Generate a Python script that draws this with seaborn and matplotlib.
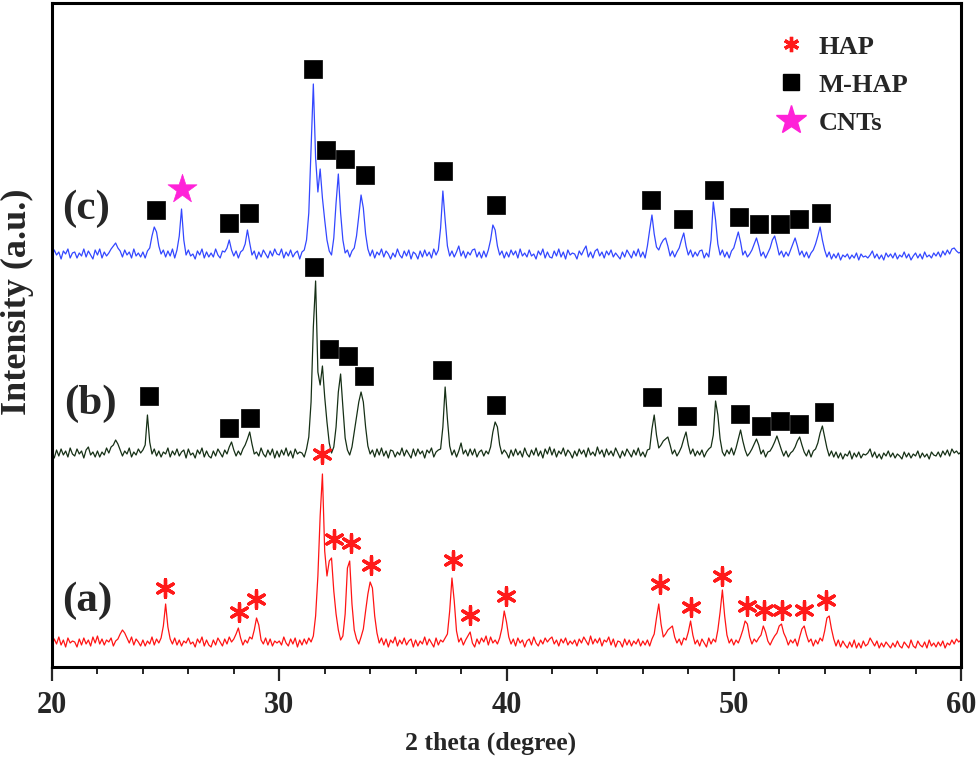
import numpy as np
import pandas as pd
import matplotlib
matplotlib.use('Agg')
import matplotlib.pyplot as plt
from matplotlib.lines import Line2D
import seaborn as sns

# 2 theta grid, 20.0 ... 60.0 in 0.1 degree steps
two_theta = np.round(np.linspace(20, 60, 401), 1)

# intensity (a.u.) above each pattern's own base, one row per degree (x.0 ... x.9)
pattern_a = [
    2, 9, 4, 11, 3, 8, 1, 10, 5, 7,
    6, 1, 9, 3, 10, 4, 8, 2, 11, 5,
    12, 4, 9, 3, 8, 6, 10, 2, 7, 9,
    14, 18, 15, 10, 5, 11, 3, 9, 6, 2,
    8, 2, 7, 4, 11, 3, 9, 5, 10, 22,
    44, 21, 9, 4, 10, 3, 8, 2, 7, 5,
    10, 4, 6, 1, 9, 5, 11, 2, 8, 3,
    1, 8, 3, 10, 6, 2, 9, 4, 11, 6,
    9, 14, 20, 10, 3, 8, 5, 11, 9, 18,
    30, 23, 8, 4, 10, 3, 9, 2, 7, 5,
    7, 3, 11, 5, 2, 9, 4, 10, 1, 8,
    3, 9, 4, 10, 6, 12, 32, 72, 132, 174,
    97, 72, 87, 90, 57, 34, 18, 8, 12, 34,
    80, 87, 44, 18, 9, 4, 11, 19, 37, 54,
    66, 60, 32, 15, 5, 10, 3, 9, 1, 8,
    5, 11, 2, 8, 4, 10, 3, 7, 9, 1,
    8, 2, 7, 4, 11, 3, 9, 5, 1, 10,
    3, 8, 6, 10, 14, 37, 70, 47, 17, 6,
    10, 3, 8, 12, 16, 5, 1, 9, 4, 10,
    6, 12, 3, 11, 5, 8, 4, 10, 20, 37,
    26, 11, 4, 9, 2, 10, 5, 8, 1, 7,
    9, 3, 11, 5, 2, 8, 4, 10, 6, 9,
    11, 4, 8, 2, 9, 5, 10, 3, 7, 4,
    8, 2, 9, 5, 11, 7, 3, 12, 4, 9,
    5, 10, 2, 8, 6, 11, 3, 9, 1, 7,
    6, 1, 9, 3, 8, 2, 7, 4, 9, 2,
    7, 3, 8, 2, 9, 14, 30, 44, 24, 11,
    14, 18, 20, 22, 11, 5, 9, 3, 10, 8,
    16, 27, 13, 4, 8, 2, 9, 5, 1, 10,
    4, 9, 6, 18, 36, 58, 32, 13, 5, 9,
    3, 8, 5, 11, 18, 27, 24, 11, 4, 9,
    6, 10, 13, 22, 16, 7, 3, 8, 12, 15,
    22, 24, 15, 10, 3, 8, 5, 9, 2, 11,
    19, 22, 13, 6, 9, 2, 8, 4, 10, 7,
    17, 30, 32, 19, 9, 2, 8, 1, 7, 3,
    0, 6, 1, 8, 0, 5, 0, 7, 2, 4,
    10, 6, 2, 7, 0, 5, 1, 6, 3, 0,
    5, 1, 7, 2, 0, 6, 3, 0, 8, 2,
    0, 7, 3, 1, 6, 0, 8, 2, 5, 1,
    6, 2, 7, 0, 5, 3, 8, 4, 9, 6,
    8,
]

pattern_b = [
    6, 1, 9, 3, 10, 4, 8, 2, 11, 5,
    3, 10, 5, 8, 1, 9, 12, 4, 7, 2,
    8, 2, 7, 4, 11, 6, 12, 14, 19, 15,
    9, 3, 8, 5, 11, 2, 7, 4, 10, 6,
    9, 14, 44, 17, 5, 10, 3, 8, 2, 7,
    5, 11, 2, 8, 4, 10, 3, 7, 9, 1,
    10, 4, 6, 1, 9, 5, 11, 2, 8, 3,
    1, 8, 3, 10, 6, 2, 9, 5, 12, 17,
    9, 3, 8, 4, 10, 14, 20, 27, 15, 5,
    7, 3, 11, 5, 2, 9, 4, 10, 1, 8,
    2, 9, 4, 11, 3, 8, 1, 10, 5, 7,
    6, 2, 10, 22, 57, 132, 178, 87, 74, 93,
    62, 37, 16, 6, 12, 32, 67, 85, 52, 21,
    9, 4, 12, 27, 42, 57, 67, 57, 32, 13,
    5, 9, 2, 10, 4, 11, 3, 8, 1, 9,
    8, 2, 7, 4, 11, 3, 9, 5, 1, 10,
    3, 10, 5, 8, 1, 9, 6, 11, 2, 7,
    9, 10, 32, 72, 40, 13, 4, 9, 2, 8,
    16, 5, 9, 3, 10, 4, 10, 2, 7, 9,
    3, 8, 5, 12, 27, 37, 32, 14, 5, 9,
    6, 1, 9, 3, 10, 4, 8, 2, 11, 5,
    2, 9, 4, 11, 3, 8, 1, 10, 5, 12,
    4, 10, 2, 8, 5, 11, 3, 9, 6, 1,
    8, 3, 10, 5, 9, 2, 11, 4, 7, 3,
    12, 5, 9, 2, 10, 4, 8, 3, 11, 6,
    1, 8, 3, 10, 6, 2, 9, 4, 11, 3,
    7, 2, 9, 10, 30, 44, 24, 11, 14, 18,
    20, 22, 14, 5, 9, 3, 7, 12, 20, 27,
    14, 5, 10, 3, 8, 4, 9, 2, 7, 10,
    12, 24, 58, 44, 20, 7, 3, 9, 5, 11,
    4, 11, 20, 29, 18, 9, 3, 6, 10, 15,
    20, 14, 5, 9, 2, 7, 8, 12, 17, 23,
    16, 9, 3, 8, 2, 6, 8, 12, 18, 22,
    14, 7, 3, 9, 2, 8, 10, 16, 26, 33,
    22, 11, 3, 8, 2, 7, 1, 6, 0, 5,
    3, 8, 0, 6, 2, 7, 1, 5, 4, 6,
    10, 2, 7, 1, 5, 0, 6, 3, 8, 2,
    6, 1, 5, 3, 0, 7, 2, 6, 1, 5,
    3, 8, 1, 6, 2, 5, 0, 7, 4, 3,
    7, 2, 8, 4, 9, 3, 10, 6, 8, 5,
    7,
]

pattern_c = [
    3, 10, 5, 8, 1, 9, 6, 11, 2, 7,
    8, 2, 7, 4, 11, 3, 9, 5, 1, 10,
    5, 11, 2, 8, 4, 7, 11, 14, 17, 12,
    9, 3, 10, 5, 8, 2, 11, 4, 7, 3,
    8, 2, 9, 12, 24, 33, 28, 14, 6, 10,
    3, 9, 4, 11, 2, 10, 24, 51, 20, 5,
    10, 4, 6, 1, 9, 5, 11, 2, 8, 3,
    7, 3, 11, 5, 2, 9, 8, 12, 20, 10,
    4, 9, 2, 8, 10, 16, 30, 17, 5, 9,
    1, 8, 3, 10, 6, 2, 9, 4, 11, 6,
    5, 11, 2, 8, 4, 10, 3, 7, 9, 1,
    8, 10, 20, 47, 112, 176, 102, 68, 91, 62,
    40, 20, 9, 5, 22, 57, 86, 47, 20, 7,
    10, 3, 9, 12, 24, 44, 65, 52, 26, 11,
    4, 10, 2, 8, 5, 11, 3, 9, 6, 1,
    7, 3, 11, 5, 2, 9, 4, 10, 1, 8,
    6, 1, 9, 3, 10, 4, 8, 2, 11, 5,
    10, 32, 69, 40, 14, 4, 9, 3, 8, 14,
    4, 9, 2, 8, 5, 10, 11, 3, 8, 2,
    9, 3, 10, 20, 35, 30, 14, 5, 9, 2,
    8, 3, 10, 5, 9, 2, 11, 4, 7, 3,
    10, 4, 6, 1, 9, 5, 11, 2, 8, 3,
    2, 9, 4, 11, 3, 8, 1, 10, 5, 7,
    6, 1, 9, 5, 10, 14, 3, 8, 2, 9,
    11, 4, 8, 2, 9, 5, 10, 3, 7, 4,
    1, 8, 3, 10, 6, 2, 9, 4, 11, 3,
    8, 2, 14, 30, 45, 26, 13, 10, 16, 20,
    22, 14, 4, 9, 3, 8, 12, 20, 27, 14,
    5, 10, 3, 8, 4, 9, 10, 2, 7, 3,
    20, 58, 40, 16, 5, 10, 3, 8, 2, 9,
    12, 20, 28, 18, 5, 9, 3, 6, 10, 16,
    22, 14, 4, 8, 2, 7, 12, 20, 24, 15,
    5, 9, 3, 8, 4, 10, 16, 22, 14, 5,
    9, 3, 8, 2, 7, 10, 16, 24, 33, 20,
    10, 3, 8, 1, 6, 2, 7, 0, 5, 3,
    6, 1, 5, 2, 7, 0, 6, 3, 4, 2,
    5, 9, 2, 6, 1, 5, 0, 7, 3, 6,
    2, 7, 1, 5, 3, 8, 2, 6, 0, 4,
    7, 2, 6, 1, 8, 3, 5, 2, 7, 4,
    8, 3, 9, 5, 10, 6, 11, 12, 9, 7,
    8,
]

# peak assignments (2 theta, height above the pattern's base)
hap_pos = [24.98, 28.21, 28.97, 31.89, 32.39, 33.16, 34.05, 37.63, 38.38,
           39.96, 46.74, 48.14, 49.50, 50.60, 51.33, 52.11, 53.10, 54.08]
hap_h = [60, 36, 49, 194, 109, 105, 83, 88, 33, 52, 64, 41, 72, 42, 38, 38, 38, 48]

mhap_b_pos = [24.29, 27.81, 28.72, 31.54, 32.17, 33.03, 33.71, 37.17, 39.55,
              46.42, 47.93, 49.25, 50.28, 51.19, 52.03, 52.88, 53.98]
mhap_b_h = [63, 31, 41, 192, 110, 103, 83, 89, 54, 62, 43, 74, 45, 33, 38, 35, 47]

mhap_c_pos = [24.57, 27.77, 28.67, 31.48, 32.07, 32.91, 33.79, 37.19, 39.52,
              46.37, 47.77, 49.13, 50.21, 51.13, 52.03, 52.85, 53.83]
mhap_c_h = [50, 37, 47, 191, 110, 101, 85, 89, 55, 60, 41, 70, 43, 36, 36, 41, 47]

cnt_pos = [25.73]
cnt_h = [71]

samples = ['(a)', '(b)', '(c)']
colors = ['#ff1414', '#163016', '#3347ff']
offsets = [19, 208, 407]

sns.set_style('ticks')
plt.rcParams['font.family'] = ['Liberation Serif', 'DejaVu Serif']
plt.rcParams['font.weight'] = 'bold'

fig = plt.figure(figsize=(9.8, 7.68), dpi=100)
ax = fig.add_axes([52 / 980, 101 / 768, 909 / 980, 664 / 768])

frames = []
for name, vals, off in zip(samples, [pattern_a, pattern_b, pattern_c], offsets):
    frames.append(pd.DataFrame({'two_theta': two_theta,
                                'intensity': np.array(vals) + off,
                                'sample': name}))
data = pd.concat(frames, ignore_index=True)

sns.lineplot(data=data, x='two_theta', y='intensity', hue='sample',
             palette=dict(zip(samples, colors)), estimator=None, sort=False,
             linewidth=0.9, legend=False, ax=ax)

star6 = (6, 2, 0)
sns.scatterplot(x=hap_pos, y=np.array(hap_h) + offsets[0], marker=star6, s=160,
                color='#ff1a1a', edgecolor='#ff1a1a', linewidth=2.4, ax=ax, zorder=4)
sns.scatterplot(x=mhap_b_pos, y=np.array(mhap_b_h) + offsets[1], marker='s', s=150,
                color='black', edgecolor='black', linewidth=0.5, ax=ax, zorder=4)
sns.scatterplot(x=mhap_c_pos, y=np.array(mhap_c_h) + offsets[2], marker='s', s=150,
                color='black', edgecolor='black', linewidth=0.5, ax=ax, zorder=4)
sns.scatterplot(x=cnt_pos, y=np.array(cnt_h) + offsets[2], marker='*', s=480,
                color='#ff22d8', edgecolor='#ff22d8', linewidth=0.5, ax=ax, zorder=4)

label_pos = [(21.55, 66), (21.7, 263), (21.5, 458)]
for name, (lx, ly) in zip(samples, label_pos):
    ax.text(lx, ly, name, fontsize=31, fontweight='bold', ha='center', va='center')

handles = [
    Line2D([], [], linestyle='none', marker=star6, markersize=11,
           markeredgewidth=2.4, color='#ff1a1a'),
    Line2D([], [], linestyle='none', marker='s', markersize=12, color='black'),
    Line2D([], [], linestyle='none', marker='*', markersize=22, color='#ff22d8'),
]
ax.legend(handles, ['HAP', 'M-HAP', 'CNTs'], loc='upper left',
          bbox_to_anchor=(762 / 980, 1 - 22 / 768), bbox_transform=fig.transFigure,
          frameon=False, fontsize=19, borderpad=0, handlelength=1.2,
          handletextpad=0.45, labelspacing=0.55)

ax.set_xlim(20, 60)
ax.set_ylim(0, 664)
ax.set_xticks([20, 30, 40, 50, 60])
ax.set_xticks(np.arange(20, 61, 2), minor=True)
ax.set_yticks([])
ax.tick_params(axis='x', which='major', direction='out', length=10, width=1.6,
               labelsize=22, pad=7)
ax.tick_params(axis='x', which='minor', direction='out', length=5, width=1.4)
for side in ['left', 'right', 'top', 'bottom']:
    ax.spines[side].set_visible(True)
    ax.spines[side].set_linewidth(2.2)
    ax.spines[side].set_color('black')

ax.set_xlabel('2 theta (degree)', fontsize=18.5, fontweight='bold')
ax.xaxis.set_label_coords(0.482, -0.098)
ax.set_ylabel('Intensity (a.u.)', fontsize=26, fontweight='bold')
ax.yaxis.set_label_coords(-0.020, 0.55)

fig.savefig('out.png', dpi=100)
